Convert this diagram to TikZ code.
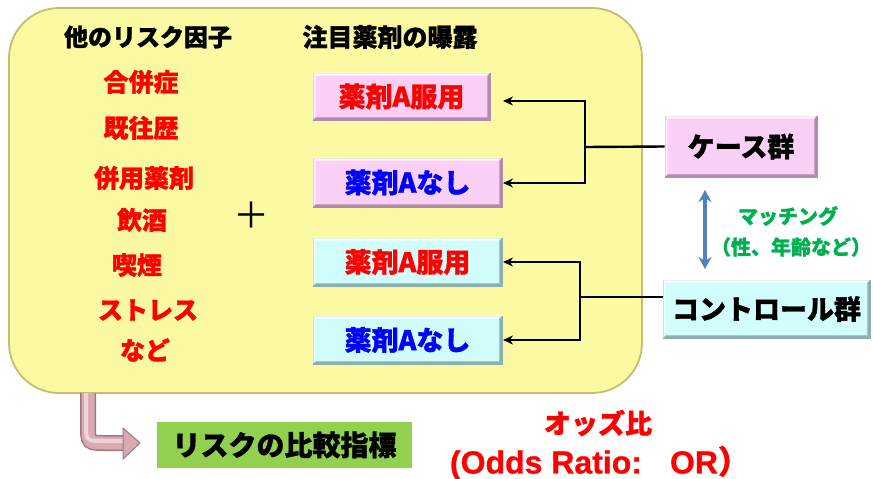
\documentclass[tikz,border=0pt]{standalone}
\usepackage{fontspec}
\setmainfont{Noto Sans CJK JP}[BoldFeatures={FakeBold=1.2}]
\newfontfamily\lat{Liberation Sans}[BoldFeatures={FakeBold=0.8}]
\usetikzlibrary{arrows.meta}
\definecolor{boxy}{HTML}{FCF9A3}
\definecolor{boxyedge}{HTML}{C2BE6E}
\definecolor{pinkf}{HTML}{FBD0F6}
\definecolor{pinke}{HTML}{B08CAC}
\definecolor{cyanf}{HTML}{D2FDFD}
\definecolor{cyane}{HTML}{8AB0B0}
\definecolor{jred}{HTML}{FF0000}
\definecolor{jblue}{HTML}{0000FF}
\definecolor{jgreen}{HTML}{00B050}
\definecolor{mblue}{HTML}{4F81BD}
\definecolor{lgreen}{HTML}{92D050}
\definecolor{apink}{HTML}{D8AAB2}
\definecolor{apinkd}{HTML}{A07880}
\newcommand{\fs}[1]{\fontsize{#1pt}{#1pt}\selectfont\bfseries}
\newcommand{\bevel}[3]{%
  \fill[#2,opacity=.8] (#1.north west) -- (#1.north east) -- ([shift={(-3,3)}]#1.north east) -- ([shift={(3,3)}]#1.north west) -- cycle;
  \fill[#2,opacity=.6] (#1.north west) -- (#1.south west) -- ([shift={(3,-3)}]#1.south west) -- ([shift={(3,3)}]#1.north west) -- cycle;
  \fill[#3] (#1.south west) -- (#1.south east) -- ([shift={(-3,-3)}]#1.south east) -- ([shift={(3,-3)}]#1.south west) -- cycle;
  \fill[#3] (#1.north east) -- (#1.south east) -- ([shift={(-3,-3)}]#1.south east) -- ([shift={(-3,3)}]#1.north east) -- cycle;
}
\begin{document}
\begin{tikzpicture}[x=1pt,y=-1pt,
  bigbox/.style={draw=boxyedge,fill=boxy,line width=1.8pt,rounded corners=50pt,inner sep=0pt},
  pinkbox/.style={fill=pinkf,draw=pinke,line width=0.8pt,inner sep=0pt},
  cyanbox/.style={fill=cyanf,draw=cyane,line width=0.8pt,inner sep=0pt},
  arr/.style={-{Stealth[length=10pt,width=9pt]},line width=2.4pt},
  ln/.style={line width=2.4pt},
  lbl/.style={inner sep=0pt}]
\useasboundingbox (0,0) rectangle (873,479);

\node[bigbox,minimum width=633pt,minimum height=385pt] (big) at (325.5,200.5) {};

\node[lbl] (hdr1) at (148,37) {\fs{24}他のリスク因子};
\node[lbl] (hdr2) at (390,37) {\fs{25}注目薬剤の曝露};

\node[lbl,text=jred] (r1) at (141,82) {\fs{25}合併症};
\node[lbl,text=jred] (r2) at (141,128) {\fs{25}既往歴};
\node[lbl,text=jred] (r3) at (144,178) {\fs{25}併用薬剤};
\node[lbl,text=jred] (r4) at (142,220) {\fs{25}飲酒};
\node[lbl,text=jred] (r5) at (137,265) {\fs{25}喫煙};
\node[lbl,text=jred] (r6) at (148,310) {\fs{25}ストレス};
\node[lbl,text=jred] (r7) at (145,350) {\fs{25}など};

\node[lbl] (plus) at (251,215) {\fontsize{36pt}{36pt}\selectfont ＋};

\node[pinkbox,minimum width=177pt,minimum height=47pt] (b1) at (401.5,96.5) {};
\bevel{b1}{white}{pinke}
\node[lbl,text=jred] (t1) at (b1) {\fs{27}薬剤A服用};
\node[pinkbox,minimum width=189pt,minimum height=49pt] (b2) at (407.5,182.5) {};
\bevel{b2}{white}{pinke}
\node[lbl,text=jblue] (t2) at (b2) {\fs{27}薬剤Aなし};
\node[cyanbox,minimum width=189pt,minimum height=48pt] (b3) at (407.5,262) {};
\bevel{b3}{white}{cyane}
\node[lbl,text=jred] (t3) at (b3) {\fs{27}薬剤A服用};
\node[cyanbox,minimum width=189pt,minimum height=48pt] (b4) at (407.5,340) {};
\bevel{b4}{white}{cyane}
\node[lbl,text=jblue] (t4) at (b4) {\fs{27}薬剤Aなし};

\node[pinkbox,minimum width=152pt,minimum height=61pt] (case) at (741,146.5) {};
\bevel{case}{white}{pinke}
\node[lbl] (tc) at (case) {\fs{27}ケース群};
\node[cyanbox,minimum width=207pt,minimum height=58pt] (ctrl) at (766.5,309) {};
\bevel{ctrl}{white}{cyane}
\node[lbl] (tk) at (ctrl) {\fs{27}コントロール群};

\coordinate (j1) at (585,147);
\coordinate (a1) at (503,101);
\coordinate (a2) at (503,183);
\draw[ln] (case.west) -- (j1);
\draw[arr] (j1) |- (a1);
\draw[arr] (j1) |- (a2);

\coordinate (j2) at (580,297);
\coordinate (a3) at (503,262);
\coordinate (a4) at (503,340);
\draw[ln] (ctrl.west |- j2) -- (j2);
\draw[arr] (j2) |- (a3);
\draw[arr] (j2) |- (a4);

\coordinate (m1) at (705,190);
\coordinate (m2) at (705,269);
\draw[mblue,line width=4pt,{Stealth[length=12pt,width=13pt]}-{Stealth[length=12pt,width=13pt]}] (m1) -- (m2);
\node[lbl,text=jgreen] (mt1) at (788,216) {\fs{20}マッチング};
\node[lbl,text=jgreen] (mt2) at (791,247) {\fs{20}（性、年齢など）};

% bent arrow
\coordinate (s0) at (88,393);
\coordinate (s1) at (125,443);
\draw[apinkd,line width=16pt] (s0) -- (88,425) .. controls (88,443) .. (106,443) -- (s1);
\draw[apink,line width=13pt] (s0) -- (88,425) .. controls (88,443) .. (106,443) -- (s1);
\draw[white,opacity=.5,line width=4pt] (86,393) -- (86,425) .. controls (86,441) .. (106,441) -- (125,441);
\fill[apink,draw=apinkd,line width=1pt] (123,428) -- (140,443) -- (123,459) -- cycle;

\node[fill=lgreen,minimum width=255pt,minimum height=46pt,inner sep=0pt] (res) at (284.5,445) {\fs{28}リスクの比較指標};

\node[lbl,text=jred] (or1) at (598,423) {\fs{27}オッズ比};
\node[lbl,text=jred] (or2) at (600,463) {\fs{32}{\lat (Odds Ratio:}\hspace{28pt}{\lat OR}）};
\end{tikzpicture}
\end{document}
